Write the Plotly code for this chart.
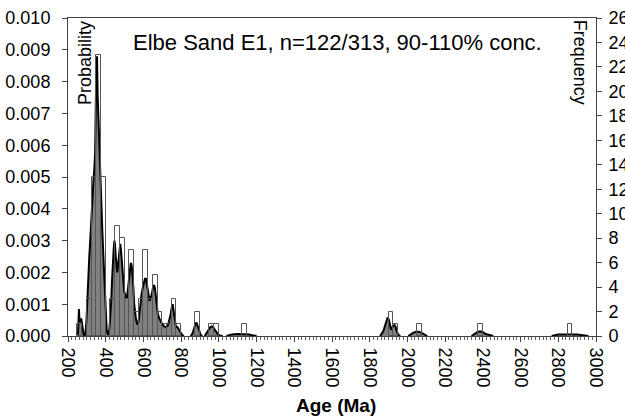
import plotly.graph_objects as go

# ---------------- data ----------------
# histogram (25 Ma bins): left edge of bin and count
bin_left = [250, 300, 325, 350, 375, 425, 450, 475, 500, 525, 550, 575, 600, 625, 650,
            675, 700, 725, 750, 775, 875, 950, 975, 1125, 1900, 1925, 2050, 2375, 2850]
bin_count = [1, 3, 13, 23, 13, 3, 9, 8, 3, 7, 2, 3, 7, 3, 5,
             2, 1, 1, 3, 1, 2, 1, 1, 1, 2, 1, 1, 1, 1]
bin_width = 25

# probability density curve; None separates segments
curve_age = [250, 253, 256, 258, 260, 263, 267, 270, 274, 278, 283, 288, 293, 298, 302, 308, 313, 317,
             322, 329, 335, 340, 344, 348, 351, 354, 357, 361, 364, 367, 370, 374, 378, 382, 387,
             392, 396, 400, 405, 412, 417, 422, 426, 430, 434, 438, 442, 446, 449, 453, 457, 461,
             465, 469, 473, 477, 481, 485, 489, 493, 498, 503, 508, 513, 518, 523, 528, 533, 538,
             543, 547, 551, 556, 561, 566, 570, 575, 580, 585, 590, 596, 602, 608, 613, 618, 623,
             628, 633, 638, 644, 650, 656, 661, 666, 671, 676, 684, 692, 700, 710, 720, 730, 738,
             745, 750, 755, 760, 765, 772, 780, 788, 795, 805, 815, None,
             850, 858, 864, 870, 877, 883, 889, 896, 903, 912, None,
             925, 935, 945, 955, 962, 970, 978, 986, 995, 1005, 1020, None,
             1040, 1050, 1070, 1100, 1130, 1160, 1180, 1200, None,
             1855, 1862, 1872, 1880, 1888, 1895, 1902, 1908, 1913, 1918, 1925, 1932, 1938, 1945,
             1952, 1962, None,
             2005, 2015, 2030, 2045, 2060, 2075, 2090, 2105, None,
             2340, 2355, 2370, 2385, 2400, 2415, 2440, 2455, None,
             2765, 2780, 2800, 2900, 2940, 2960]
curve_prob = [0, 0.0001, 0.0005, 0.00085, 0.0006, 0.00045, 0.0005, 0.00055, 0.0004, 0.0002, 0.00005,
              0, 0.0001, 0.0005, 0.0012, 0.0019, 0.0025, 0.0029, 0.0036, 0.0043, 0.0049, 0.0053,
              0.0058, 0.0075, 0.0087, 0.0088, 0.0076, 0.0068, 0.0064, 0.0058, 0.0051, 0.0045,
              0.0039, 0.0033, 0.0026, 0.0018, 0.0011, 0.0006, 0.0002, 0.00003, 0.0001, 0.0004,
              0.0007, 0.0012, 0.0018, 0.0024, 0.0027, 0.0030, 0.0029, 0.0025, 0.0022, 0.0020,
              0.0022, 0.0025, 0.0028, 0.0029, 0.0027, 0.0024, 0.0020, 0.0017, 0.0014, 0.0013,
              0.0012, 0.0012, 0.0015, 0.0019, 0.0022, 0.0023, 0.0022, 0.0019, 0.0015, 0.0010,
              0.0007, 0.0005, 0.0004, 0.00035, 0.0005, 0.0008, 0.0011, 0.0013, 0.0015, 0.0017,
              0.0018, 0.0018, 0.0016, 0.0014, 0.0012, 0.0011, 0.0012, 0.0013, 0.0015, 0.0016,
              0.0015, 0.0012, 0.0009, 0.0007, 0.00055, 0.00045, 0.00038, 0.0003, 0.00028, 0.00033,
              0.0005, 0.0007, 0.0009, 0.0010, 0.0008, 0.0005, 0.0003, 0.00028, 0.0002, 0.0001,
              0.00003, 0, None,
              0, 0.00005, 0.00015, 0.0003, 0.0004, 0.0004, 0.0003, 0.00015, 0.00004, 0, None,
              0, 0.0001, 0.0002, 0.00028, 0.0003, 0.00028, 0.0002, 0.00012, 0.00005, 0.00002, 0, None,
              0, 0.00002, 0.00005, 0.00006, 0.00006, 0.00005, 0.00002, 0, None,
              0, 0.00005, 0.00015, 0.0003, 0.0005, 0.00058, 0.0005, 0.0003, 0.0002, 0.00025,
              0.00033, 0.00034, 0.00028, 0.00012, 0.00004, 0, None,
              0, 0.00005, 0.0001, 0.00013, 0.00013, 0.0001, 0.00004, 0, None,
              0, 0.00006, 0.00012, 0.00015, 0.00012, 0.00006, 0.00001, 0, None,
              0, 0.00003, 0.00005, 0.00005, 0.00003, 0]

x_ticks = list(range(200, 3001, 200))
title_text = "Elbe Sand E1, n=122/313, 90-110% conc."

FONT = "Liberation Sans, Arial, sans-serif"
AX = "#444444"

bin_center = [b + bin_width / 2 for b in bin_left]

fig = go.Figure()
fig.add_trace(go.Scatter(
    x=curve_age, y=curve_prob, mode="lines", fill="tozeroy",
    fillcolor="#808080", line=dict(color="black", width=2),
    connectgaps=False, yaxis="y", hoverinfo="skip", showlegend=False))
fig.add_trace(go.Bar(
    x=bin_center, y=bin_count, width=bin_width, yaxis="y2",
    marker=dict(color="rgba(0,0,0,0)", line=dict(color="#555555", width=1)),
    showlegend=False))

fig.update_layout(
    width=625, height=419,
    margin=dict(l=68, r=29, t=18, b=83),
    paper_bgcolor="white", plot_bgcolor="white",
    font=dict(family=FONT, size=18, color="black"),
    bargap=0,
    xaxis=dict(range=[200, 3000], tickvals=x_ticks, tickangle=90, automargin=False,
               ticks="outside", ticklen=5, tickcolor=AX, showline=True, linecolor=AX,
               linewidth=1, mirror=True, showgrid=False, zeroline=False,
               minor=dict(dtick=20, tick0=200, ticks="outside", ticklen=3, tickcolor="#666666"),
               tickfont=dict(size=18), ticklabelstandoff=2),
    yaxis=dict(range=[0, 0.010], dtick=0.001, tickformat=".3f", ticks="outside",
               automargin=False,
               ticklen=5, tickcolor=AX, showline=True, linecolor=AX, linewidth=1,
               showgrid=False, zeroline=False, tickfont=dict(size=18), ticklabelstandoff=8),
    yaxis2=dict(range=[0, 26], dtick=2, overlaying="y", side="right", ticks="outside",
                automargin=False,
                ticklen=5, tickcolor=AX, showline=True, linecolor=AX, linewidth=1,
                showgrid=False, zeroline=False, tickfont=dict(size=18), ticklabelstandoff=3),
    annotations=[
        dict(text=title_text, xref="paper", yref="paper", x=0.511, y=0.9245,
             showarrow=False, font=dict(size=22), xanchor="center", yanchor="middle"),
        dict(text="Probability", xref="paper", yref="paper", x=0.032, y=0.858,
             showarrow=False, textangle=-90, font=dict(size=18),
             xanchor="center", yanchor="middle"),
        dict(text="Frequency", xref="paper", yref="paper", x=0.970, y=0.862,
             showarrow=False, textangle=90, font=dict(size=18),
             xanchor="center", yanchor="middle"),
        dict(text="<b>Age (Ma)</b>", xref="paper", yref="paper", x=0.508, y=-0.22,
             showarrow=False, font=dict(size=19), xanchor="center", yanchor="middle"),
    ],
)

fig.write_html("out.html")
